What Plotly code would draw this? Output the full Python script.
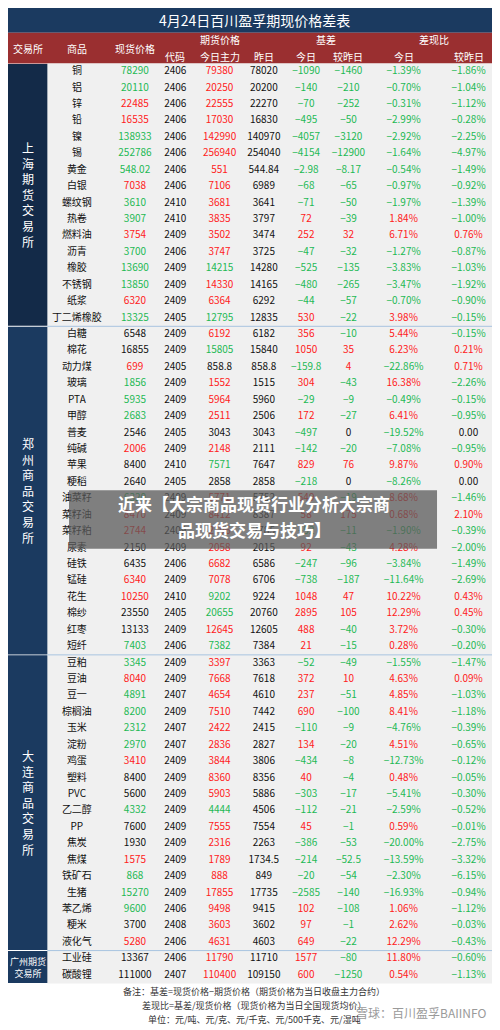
import plotly.graph_objects as go

products = ["铜", "铝", "锌", "铅", "镍", "锡", "黄金", "白银", "螺纹钢", "热卷", "燃料油", "沥青", "橡胶", "不锈钢", "纸浆", "丁二烯橡胶",
            "白糖", "棉花", "动力煤", "玻璃", "PTA", "甲醇", "普麦", "纯碱", "苹果", "粳稻", "油菜籽", "菜籽油", "菜籽粕", "尿素", "硅铁", "锰硅", "花生", "棉纱", "红枣", "短纤",
            "豆粕", "豆油", "豆一", "棕榈油", "玉米", "淀粉", "鸡蛋", "塑料", "PVC", "乙二醇", "PP", "焦炭", "焦煤", "铁矿石", "生猪", "苯乙烯", "粳米", "液化气",
            "工业硅", "碳酸锂"]
spot = ["78290", "20110", "22485", "16535", "138933", "252786", "548.02", "7038", "3610", "3907", "3754", "3700", "13690", "13850", "6320", "13325",
        "6548", "16855", "699", "1856", "5935", "2683", "2546", "2006", "8400", "2640", "6320", "8470", "2744", "2150", "6435", "6340", "10250", "23550", "13133", "7403",
        "3345", "8040", "4891", "8200", "2312", "2970", "3410", "8400", "5600", "4332", "7600", "1930", "1575", "868", "15270", "9600", "3700", "5280",
        "13367", "111000"]
# r = up (red), g = down (green), k = unchanged
spot_dir = "ggrrgggrggrgggrg" + "kkrgggkrkkgrrkkrrkkg" + "grggggrkkgkkrgggkr" + "kk"
code = ["2406"] * 8 + ["2410", "2410", "2409", "2406", "2409", "2409", "2409", "2405",
        "2409", "2409", "2405", "2409", "2409", "2409", "2405", "2409", "2410", "2405", "2409", "2409", "2409", "2409", "2406", "2409", "2410", "2405", "2409", "2406",
        "2409", "2409", "2407", "2409", "2407", "2407", "2409", "2409", "2409", "2409", "2409", "2409", "2409", "2409", "2409", "2406", "2408", "2406",
        "2406", "2407"]
fut = ["79380", "20250", "22555", "17030", "142990", "256940", "551", "7106", "3681", "3835", "3502", "3747", "14215", "14330", "6364", "12795",
       "6192", "15805", "858.8", "1552", "5964", "2511", "3043", "2148", "7571", "2858", "5771", "8412", "2796", "2058", "6682", "7078", "9202", "20655", "12645", "7382",
       "3397", "7668", "4654", "7510", "2422", "2836", "3844", "8360", "5903", "4444", "7555", "2316", "1789", "888", "17855", "9498", "3603", "4631",
       "11790", "110400"]
fut_dir = "rrrrrrrrrrrrgrrg" + "rgkrrrkrgkrrrrrrggrg" + "rrrrrrrrrgrrrrrrrr" + "rr"
prev = ["78020", "20200", "22270", "16830", "140970", "254040", "544.84", "6989", "3641", "3797", "3474", "3725", "14280", "14165", "6292", "12835",
        "6182", "15840", "858.8", "1515", "5960", "2506", "3043", "2111", "7647", "2858", "5752", "8387", "2785", "2015", "6586", "6706", "9224", "20760", "12605", "7384",
        "3363", "7618", "4610", "7442", "2415", "2827", "3806", "8356", "5886", "4506", "7554", "2263", "1734.5", "849", "17735", "9415", "3602", "4603",
        "11710", "109150"]
basis = ["-1090", "-140", "-70", "-495", "-4057", "-4154", "-2.98", "-68", "-71", "72", "252", "-47", "-525", "-480", "-44", "530",
         "356", "1050", "-159.8", "304", "-29", "172", "-497", "-142", "829", "-218", "549", "58", "-52", "92", "-247", "-738", "1048", "2895", "488", "21",
         "-52", "372", "237", "690", "-110", "134", "-434", "40", "-303", "-112", "45", "-386", "-214", "-20", "-2585", "102", "97", "649",
         "1577", "600"]
basis_chg = ["-1460", "-210", "-252", "-50", "-3120", "-12900", "-8.17", "-65", "-50", "-39", "32", "-32", "-135", "-265", "-57", "-22",
             "-10", "35", "4", "-43", "-9", "-27", "0", "-20", "76", "0", "-19", "175", "-11", "-43", "-96", "-187", "47", "105", "-40", "-15",
             "-49", "10", "-51", "-100", "-9", "-20", "-8", "-4", "-17", "-21", "-1", "-53", "-52.5", "-54", "-140", "-108", "-1", "-22",
             "-80", "-1250"]
ratio = ["-1.39%", "-0.70%", "-0.31%", "-2.99%", "-2.92%", "-1.64%", "-0.54%", "-0.97%", "-1.97%", "1.84%", "6.71%", "-1.27%", "-3.83%", "-3.47%", "-0.70%", "3.98%",
         "5.44%", "6.23%", "-22.86%", "16.38%", "-0.49%", "6.41%", "-19.52%", "-7.08%", "9.87%", "-8.26%", "8.68%", "0.68%", "-1.90%", "4.28%", "-3.84%", "-11.64%", "10.22%", "12.29%", "3.72%", "0.28%",
         "-1.55%", "4.63%", "4.85%", "8.41%", "-4.76%", "4.51%", "-12.73%", "0.48%", "-5.41%", "-2.59%", "0.59%", "-20.00%", "-13.59%", "-2.30%", "-16.93%", "1.06%", "2.62%", "12.29%",
         "11.80%", "0.54%"]
ratio_chg = ["-1.86%", "-1.04%", "-1.12%", "-0.28%", "-2.25%", "-4.97%", "-1.49%", "-0.92%", "-1.39%", "-1.00%", "0.76%", "-0.87%", "-1.03%", "-1.92%", "-0.90%", "-0.15%",
             "-0.15%", "0.21%", "0.71%", "-2.26%", "-0.15%", "-0.95%", "0.00", "-0.95%", "0.90%", "0.00", "-1.46%", "2.10%", "-0.39%", "-2.00%", "-1.49%", "-2.69%", "0.43%", "0.45%", "-0.30%", "-0.20%",
             "-1.47%", "0.09%", "-1.03%", "-1.18%", "-0.39%", "-0.65%", "-0.12%", "-0.05%", "-0.30%", "-0.52%", "-0.01%", "-2.75%", "-3.32%", "-6.15%", "-0.94%", "-1.12%", "-0.03%", "-0.43%",
             "-0.60%", "-1.13%"]
exchanges = ["上海期货交易所", "郑州商品交易所", "大连商品交易所", "广州期货交易所"]
exchange_rows = [16, 20, 18, 2]

RED, GREEN, BLACK = "#ff2020", "#1db954", "#111111"
NAVY, HEAD = "#1b3a60", "#9a2f30"
dir_col = {"r": RED, "g": GREEN, "k": BLACK}


def sign_col(v):
    x = float(v.replace("%", ""))
    return RED if x > 0 else GREEN if x < 0 else BLACK


top, bottom = 56, 985
rh = (bottom - top) / len(products)
ys = [top + (i + 0.5) * rh for i in range(len(products))]

fig = go.Figure()
font = "Noto Sans CJK SC, DejaVu Sans"
cols = [
    (70, products, [BLACK] * len(products)),
    (129, spot, [dir_col[c] for c in spot_dir]),
    (170, code, [BLACK] * len(code)),
    (215, fut, [dir_col[c] for c in fut_dir]),
    (260, prev, [BLACK] * len(prev)),
    (303, basis, [sign_col(v) for v in basis]),
    (346, basis_chg, [sign_col(v) for v in basis_chg]),
    (402, ratio, [sign_col(v) for v in ratio]),
    (468, ratio_chg, [sign_col(v) for v in ratio_chg]),
]
for x, vals, colors in cols:
    vals = [v.replace("-", "−") for v in vals]
    fig.add_trace(go.Scatter(x=[x] * len(vals), y=ys, mode="text", text=vals,
                             textfont=dict(color=colors, size=10, family=font),
                             cliponaxis=False, hoverinfo="skip"))

shapes = [
    dict(type="rect", x0=0, x1=500, y0=0, y1=25, fillcolor=NAVY, line_width=0, layer="below"),
    dict(type="rect", x0=0, x1=500, y0=25, y1=top, fillcolor=HEAD, line_width=0, layer="below"),
    dict(type="rect", x0=40, x1=500, y0=top, y1=bottom, fillcolor="#f0f0f0", line_width=0, layer="below"),
]
ann = [dict(x=250, y=12, text="4月24日百川盈孚期现价格差表", font=dict(color="white", size=14))]
hdr = [(20, 41, "交易所"), (70, 41, "商品"), (129, 41, "现货价格"), (215, 32, "期货价格"), (323, 32, "基差"),
       (433, 32, "差现比"), (170, 49, "代码"), (215, 49, "今日主力"), (260, 49, "昨日"), (303, 49, "今日"),
       (346, 49, "较昨日"), (402, 49, "今日"), (468, 49, "较昨日")]
for x, y, t in hdr:
    ann.append(dict(x=x, y=y, text=t, font=dict(color="white", size=10)))

start = 0
for name, n in zip(exchanges, exchange_rows):
    y0, y1 = top + start * rh, top + (start + n) * rh
    shapes.append(dict(type="rect", x0=0, x1=40, y0=y0 + 0.5, y1=y1 - 0.5, fillcolor=NAVY if start else "#132a48",
                       line_width=0, layer="below"))
    if start:
        shapes.append(dict(type="line", x0=40, x1=500, y0=y0, y1=y0, line=dict(color="#a8c4e0", width=1)))
    if n > 2:
        txt, sz = "<br>".join(name), 12
    else:
        txt, sz = name[:4] + "<br>" + name[4:], 9
    ann.append(dict(x=20, y=(y0 + y1) / 2, text=txt, font=dict(color="white", size=sz)))
    start += n

notes = ["备注：基差=现货价格−期货价格（期货价格为当日收盘主力合约）",
         "差现比=基差/现货价格（现货价格为当日全国现货均价）",
         "单位：元/吨、元/克、元/千克、元/500千克、元/湿吨"]
for k, t in enumerate(notes):
    ann.append(dict(x=250, y=993 + k * 14, text=t, font=dict(color="#333333", size=9)))
ann.append(dict(x=420, y=1014, text="雪球：百川盈孚BAIINFO", font=dict(color="#9a9a9a", size=12)))

# overlay banner
shapes.append(dict(type="rect", x0=62, x1=436, y0=487, y1=546, fillcolor="rgba(90,90,90,0.75)", line_width=0))
ann.append(dict(x=250, y=500, text="<b>近来【大宗商品现货行业分析大宗商</b>", font=dict(color="white", size=17)))
ann.append(dict(x=250, y=527, text="<b>品现货交易与技巧】</b>", font=dict(color="white", size=17)))

for a in ann:
    a.update(xref="x", yref="y", showarrow=False)
    a["font"]["family"] = font

fig.update_layout(width=492, height=1020, margin=dict(l=0, r=0, t=0, b=0), showlegend=False,
                  paper_bgcolor="white", plot_bgcolor="white", shapes=shapes, annotations=ann,
                  xaxis=dict(range=[0, 500], visible=False, fixedrange=True),
                  yaxis=dict(range=[1030, 0], visible=False, fixedrange=True))
fig.write_html("out.html", config={"displayModeBar": False})
